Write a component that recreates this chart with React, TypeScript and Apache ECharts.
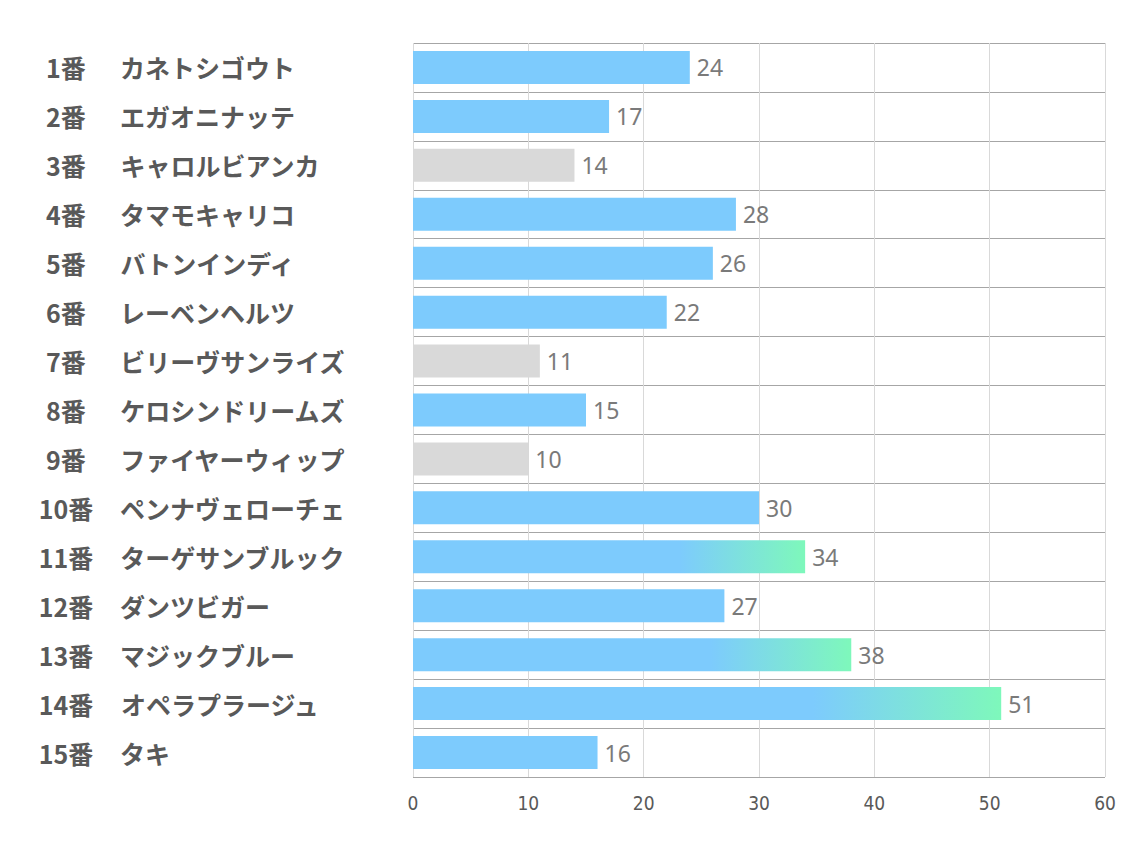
import React, { useEffect, useRef } from "react";
import * as echarts from "echarts";

const numbers = ["1番", "2番", "3番", "4番", "5番", "6番", "7番", "8番", "9番", "10番", "11番", "12番", "13番", "14番", "15番"];
const names = [
  "カネトシゴウト", "エガオニナッテ", "キャロルビアンカ", "タマモキャリコ", "バトンインディ",
  "レーベンヘルツ", "ビリーヴサンライズ", "ケロシンドリームズ", "ファイヤーウィップ", "ペンナヴェローチェ",
  "ターゲサンブルック", "ダンツビガー", "マジックブルー", "オペラプラージュ", "タキ",
];
const values = [24, 17, 14, 28, 26, 22, 11, 15, 10, 30, 34, 27, 38, 51, 16];
const excludedNumbers = [3, 7, 9];
const highlightedNumbers = [11, 13, 14];
const xTicks = [0, 10, 20, 30, 40, 50, 60];

const BLUE = "#7dcbfd";
const GREEN = "#7ef8bb";
const GRAY = "#d9d9d9";

export default function App() {
  const ref = useRef<HTMLDivElement>(null);
  useEffect(() => {
    if (!ref.current) return;
    const chart = echarts.init(ref.current, null, { renderer: "svg" });
    const cats = numbers.map((n, i) => `${n}|${names[i]}`);
    const data = values.map((v, i) => {
      const no = i + 1;
      let color: any = BLUE;
      if (excludedNumbers.includes(no)) color = GRAY;
      else if (highlightedNumbers.includes(no))
        color = new echarts.graphic.LinearGradient(0, 0, 1, 0, [
          { offset: 0, color: BLUE },
          { offset: 0.68, color: BLUE },
          { offset: 1, color: GREEN },
        ]);
      return { value: v, itemStyle: { color } };
    });
    chart.setOption({
      animation: false,
      backgroundColor: "#ffffff",
      grid: { left: 413, right: 29, top: 43, bottom: 73, containLabel: false },
      xAxis: {
        type: "value",
        min: xTicks[0],
        max: xTicks[xTicks.length - 1],
        interval: 10,
        axisLine: { show: false },
        axisTick: { show: false },
        axisLabel: {
          color: "#595959",
          fontSize: 19,
          margin: 16,
          fontFamily: "'Liberation Sans Narrow', 'DejaVu Sans Condensed', sans-serif",
        },
        splitLine: { show: true, lineStyle: { color: "#d9d9d9", width: 1 } },
      },
      yAxis: {
        type: "category",
        inverse: true,
        data: cats,
        axisLine: { show: false },
        axisTick: { show: false },
        splitLine: { show: true, interval: 0, lineStyle: { color: "#a6a6a6", width: 1 } },
        axisLabel: {
          interval: 0,
          align: "left",
          margin: 374,
          formatter: (val: string) => {
            const [n, name] = val.split("|");
            return `{a|${n}}{b|${name}}`;
          },
          rich: {
            a: {
              width: 54,
              align: "right",
              fontSize: 25,
              fontWeight: "bold",
              color: "#595959",
              fontFamily: "Noto Sans CJK JP",
            },
            b: {
              padding: [0, 0, 0, 27],
              fontSize: 25,
              fontWeight: "bold",
              color: "#595959",
              fontFamily: "Noto Sans CJK JP",
            },
          },
        },
      },
      series: [
        {
          type: "bar",
          data,
          barWidth: 33,
          label: {
            show: true,
            position: "right",
            distance: 7,
            color: "#7a7a7a",
            fontSize: 23,
            fontFamily: "Noto Sans",
          },
        },
      ],
    });
    return () => chart.dispose();
  }, []);
  return <div ref={ref} style={{ width: 1134, height: 850, margin: -8 }} />;
}
